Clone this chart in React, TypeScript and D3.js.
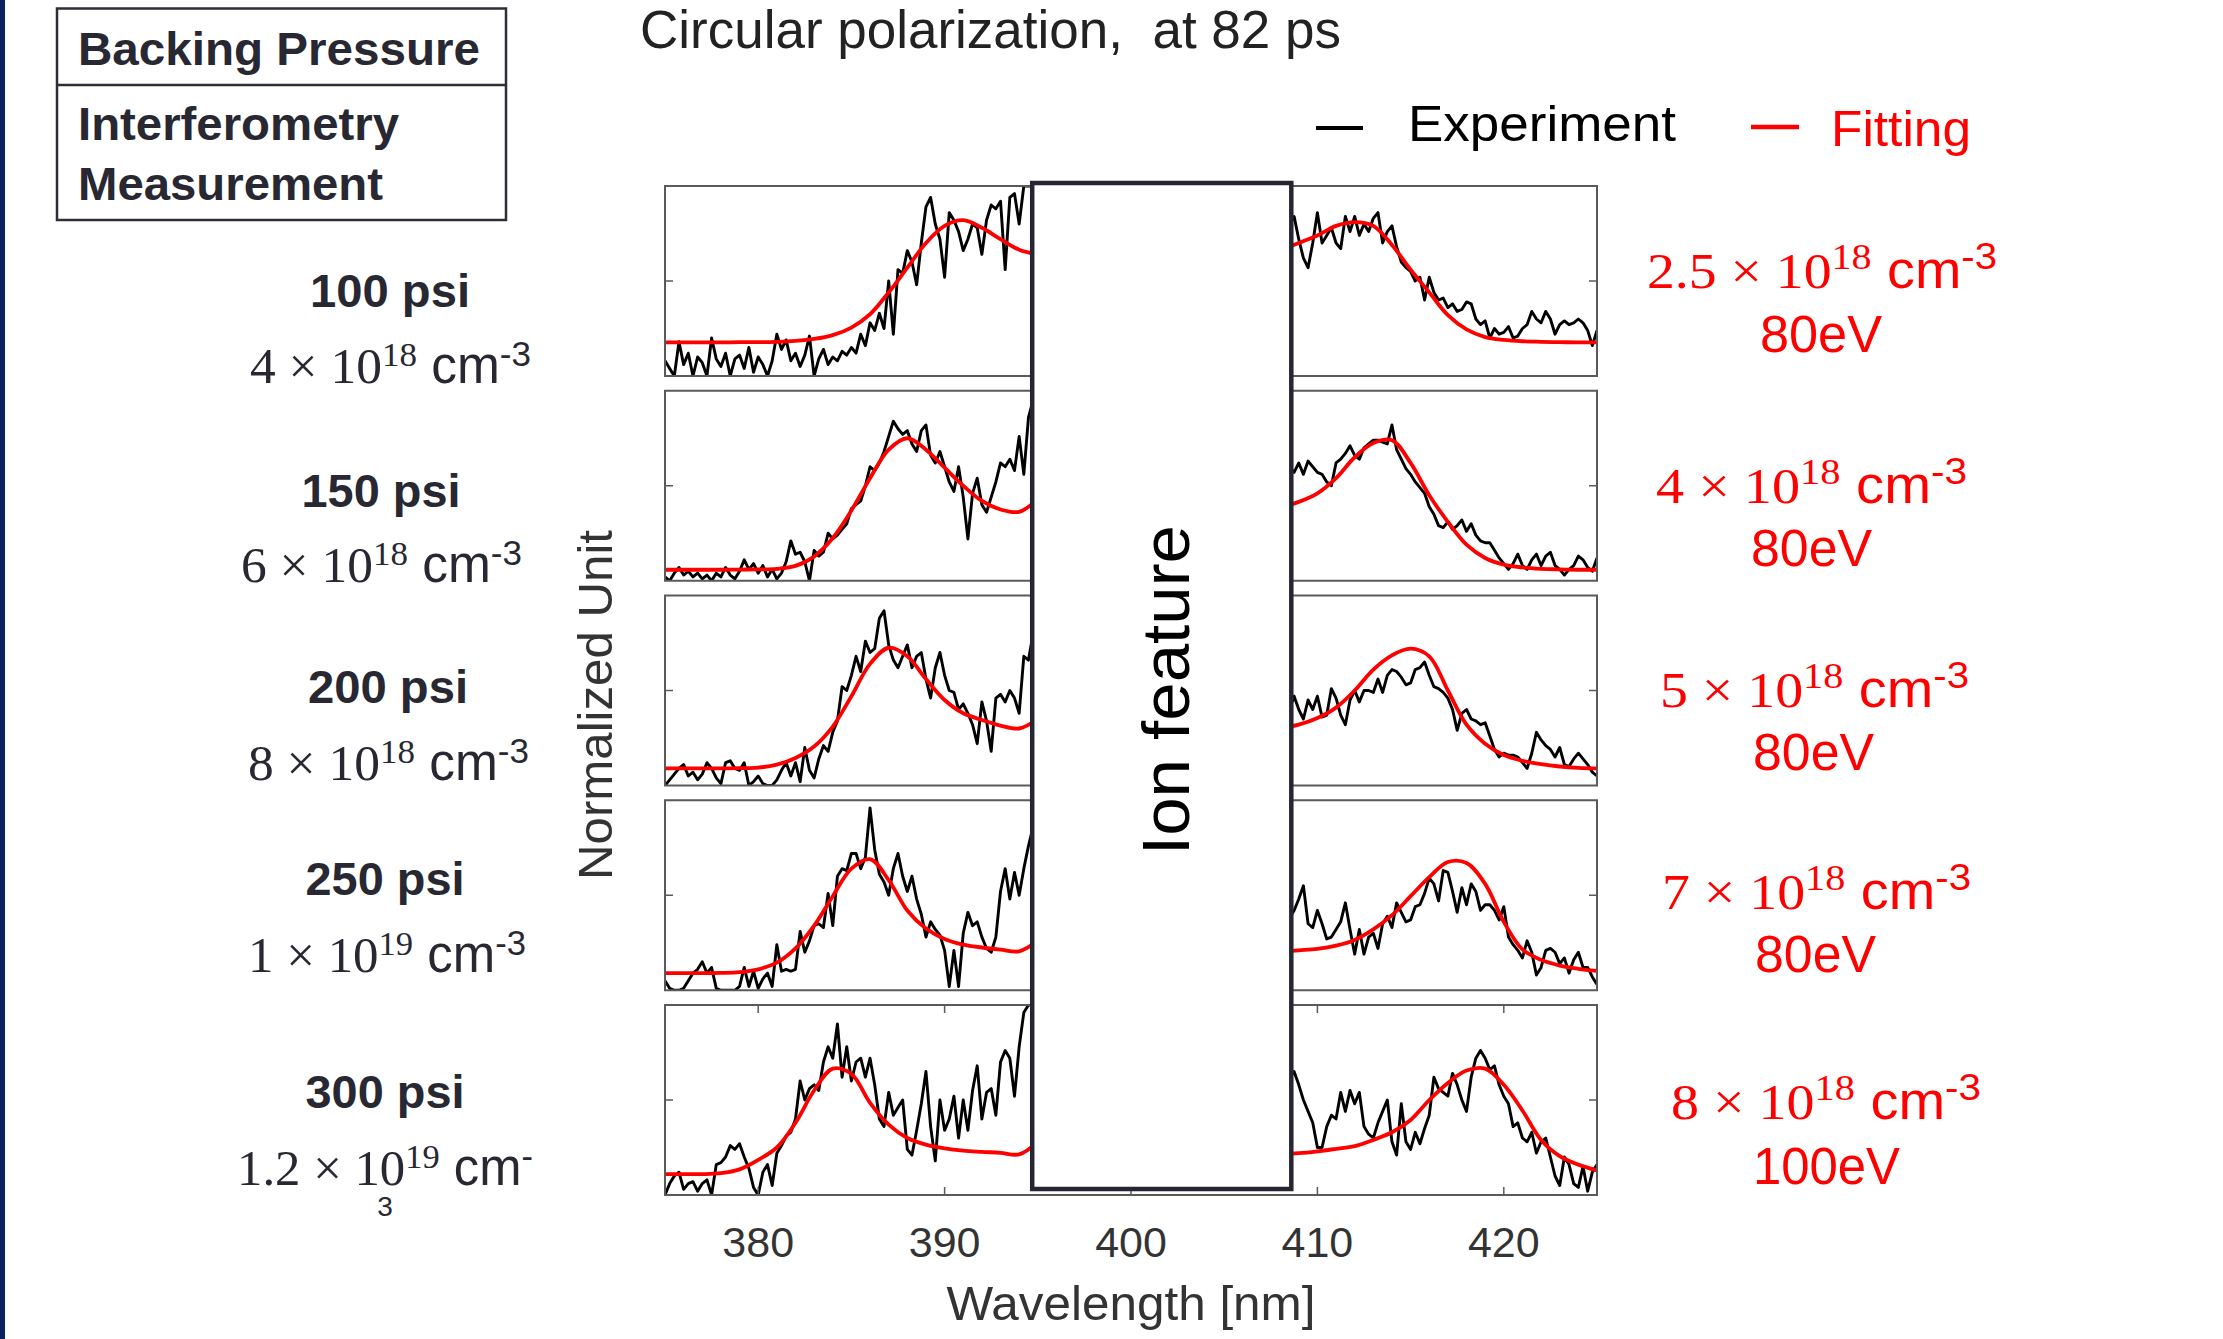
import React from "react";
import * as d3 from "d3";

// ---------------- data ----------------
const xDomain = [375, 425];
const xTicks = [380, 390, 400, 410, 420];
const yDomain = [0, 100];
const yTicks = [50];
const ionFeatureRange = [394.7, 408.6];

const expLeftStart = 375;
const expRightStart = 408.5;
const expStep = 0.25;
const fitLeftStart = 375;
const fitRightStart = 408;
const fitStep = 1;

const pressures = ["100 psi", "150 psi", "200 psi", "250 psi", "300 psi"];
const interfMantissa = ["4", "6", "8", "1", "1.2"];
const interfExponent = ["18", "18", "18", "19", "19"];
const fitMantissa = ["2.5", "4", "5", "7", "8"];
const fitExponent = ["18", "18", "18", "18", "18"];
const fitTemperature = ["80eV", "80eV", "80eV", "80eV", "100eV"];

// experiment, 100 psi
const exp100L = [8,4,0,18,6,12,0,10,7,0, 20,9,5,12,0,9,11,4,15,2, 10,6,0,8,22,14,19,8,12,5, 11,21,0,9,14,6,10,8,13,11, 15,12,22,16,28,24,33,25,50,22, 56,54,66,60,48,70,89,94,80,72, 52,86,82,76,66,72,80,78,64,82, 90,88,92,56,94,96,80,100,100,100, 100];
const exp100R = [80,84,72,62,57,70,86,70,74,78, 70,67,84,76,84,74,80,76,83,86, 70,76,79,68,60,57,55,50,52,40, 52,44,40,41,36,38,34,35,39,38, 30,27,29,20,25,22,23,26,20,21, 25,27,34,30,28,34,30,22,27,29, 27,28,30,28,24,16,24];
const fit100L = [17.7,17.7,17.7,17.7,17.8,17.8,18,18.5,19.5,21.5,25.5,32.5,44,57,70,79,82,78,72,66.5,64];
const fit100R = [66,70,74,79,81,79,69,56,44,32,24.5,20.5,19,18.3,18,17.8,17.7,17.7];

// experiment, 150 psi
const exp150L = [2,0,4,7,3,5,2,4,1,3, 0,4,2,7,3,1,5,11,6,9, 4,8,2,6,1,4,10,21,14,15, 10,0,16,13,15,25,22,24,27,30, 38,40,42,50,60,58,62,68,76,84, 80,77,79,72,68,79,82,66,62,68, 60,52,47,60,44,22,46,54,40,36, 44,52,62,60,64,58,76,56,86,95, 100];
const exp150R = [60,57,62,56,63,60,57,56,52,50, 62,64,67,71,66,64,70,72,74,74, 73,72,82,69,64,59,56,52,49,46, 39,35,29,28,31,27,29,32,26,30, 24,21,20,20,16,12,9,6,9,14, 8,6,11,14,8,13,15,8,6,3, 6,8,13,11,7,5,12];
const fit150L = [5.8,5.8,5.8,5.8,5.9,6,6.3,7.8,12.8,22.5,37,54,69,75,69,59.5,50,42,37.5,36.3,43];
const fit150R = [38.5,41.5,46,54,65,72.5,74,62,45,31,19,12,8.5,7,6.3,6,5.8,5.8];

// experiment, 200 psi
const exp200L = [0,3,6,9,11,5,7,3,6,12, 9,4,1,12,13,9,8,12,0,2, 5,1,0,0,3,8,12,5,12,2, 20,8,4,14,21,18,28,34,52,50, 58,68,60,76,70,72,88,92,74,66, 62,68,74,62,68,70,56,46,62,70, 58,50,49,40,43,38,32,22,44,34, 18,46,48,44,50,46,38,68,66,80, 85];
const exp200R = [40,47,40,35,45,40,47,36,37,51, 46,37,32,45,50,44,50,50,49,56, 49,58,61,60,57,53,54,61,62,65, 58,52,51,49,46,40,29,38,40,35, 34,32,33,26,19,15,17,16,16,15, 12,9,17,28,24,21,19,15,20,11, 10,14,17,14,11,7,5];
const fit200L = [9,9,9,9,9.1,9.4,11,14.5,20.5,31,47,64,72.5,68,56,45,38,34.5,31.5,30,35];
const fit200R = [30,32,35.5,41,50,61,68.5,72,68,50,32,22,16,13,11.2,10,9.3,9];

// experiment, 250 psi
const exp250L = [5,1,0,0,1,5,9,11,15,9, 12,1,0,0,0,0,2,12,2,10, 1,6,9,2,24,10,11,10,11,31, 20,26,34,35,33,51,34,60,64,63, 72,72,64,70,96,74,61,57,50,64, 72,60,52,60,48,40,28,36,32,29, 21,2,21,2,30,41,34,36,28,22, 20,28,52,64,48,62,50,64,76,86, 95];
const exp250R = [38,42,48,55,35,33,42,35,27,28, 32,36,46,32,19,32,19,28,30,22, 35,39,33,46,41,36,37,44,45,51, 59,56,47,63,62,52,41,54,45,56, 52,42,45,45,42,37,44,28,24,21, 17,26,20,8,12,21,22,20,14,17, 9,16,20,12,12,7,3];
const fit250L = [9,9,9,9.1,9.5,11,14.5,22,34,49.5,64,69,58,42,32.5,27,24,22.5,21.4,20.5,26];
const fit250R = [20.3,21,21.8,23.5,26.5,32,39.5,49.5,59.5,67.5,67,56,36,21.5,16,13,11.3,10.2];

// experiment, 300 psi
const exp300L = [0,6,10,12,3,6,7,2,6,8, 0,16,17,20,26,24,27,20,14,4, 0,12,16,5,22,26,31,33,40,60, 50,56,58,55,70,78,72,90,62,78, 60,70,72,62,72,58,40,36,54,42, 46,50,24,21,34,48,65,36,18,50, 34,40,52,30,50,34,55,68,40,54, 56,42,70,76,72,52,78,96,100,100, 100];
const exp300R = [62,65,58,50,44,38,25,25,36,42, 40,54,44,55,48,54,36,32,30,38, 44,50,28,21,48,28,24,33,27,35, 42,62,56,54,52,64,58,50,44,62, 72,76,72,66,68,58,52,48,36,38, 30,28,33,22,28,30,20,10,5,20, 16,6,4,15,2,12,16];
const fit300L = [11,11,11,11.5,13.5,18.5,25,38,55,66.5,63.7,48.5,37,30,26.5,24.5,23.3,22.7,22.2,21.4,28];
const fit300R = [21.5,22,23,24.3,25.7,29,33,39.5,50,59,65.5,66.5,58,44.5,29,20.5,16,13];

const panels = [
  { expL: exp100L, expR: exp100R, fitL: fit100L, fitR: fit100R },
  { expL: exp150L, expR: exp150R, fitL: fit150L, fitR: fit150R },
  { expL: exp200L, expR: exp200R, fitL: fit200L, fitR: fit200R },
  { expL: exp250L, expR: exp250R, fitL: fit250L, fitR: fit250R },
  { expL: exp300L, expR: exp300R, fitL: fit300L, fitR: fit300R },
];

// ---------------- fonts ----------------
const SANS = "'Liberation Sans', Arial, Helvetica, sans-serif";
const NARROW = "'Liberation Sans Narrow', 'Liberation Sans', Arial, sans-serif";
const SERIF = "'Liberation Serif', 'Times New Roman', serif";

function Density(props: {
  x: number; y: number; len: number; mant: string; exp: string; unitSup: string;
  color: string; size: number; supRatio: number; rise: number;
}) {
  const { x, y, len, mant, exp, unitSup, color, size, supRatio, rise } = props;
  const sup = size * supRatio;
  const r = size * rise;
  return (
    <text x={x} y={y} fill={color} fontSize={size} textLength={len}
      lengthAdjust="spacingAndGlyphs" style={{ whiteSpace: "pre" }}>
      <tspan fontFamily={SERIF}>{`${mant} \u00d7 10`}</tspan>
      <tspan fontFamily={SERIF} fontSize={sup} dy={-r}>{exp}</tspan>
      <tspan fontFamily={NARROW} dy={r}>{" cm"}</tspan>
      <tspan fontFamily={NARROW} fontSize={sup} dy={-r}>{unitSup}</tspan>
    </text>
  );
}

export default function App() {
  const W = 2223, H = 1339;
  const plotLeft = 665, plotRight = 1597;
  const panelTop0 = 186, panelPitch = 204.75, panelH = 190;
  const x = d3.scaleLinear().domain(xDomain).range([plotLeft, plotRight]);

  const leftPsi = [
    { cx: 390, y: 307, len: 160 },
    { cx: 381, y: 507, len: 159 },
    { cx: 388, y: 703, len: 160 },
    { cx: 385, y: 895, len: 159 },
    { cx: 385, y: 1108, len: 159 },
  ];
  const leftDen = [
    { x: 250, y: 383, len: 281 },
    { x: 241, y: 582, len: 281 },
    { x: 248, y: 780, len: 281 },
    { x: 248, y: 972, len: 278 },
    { x: 237, y: 1185, len: 296 },
  ];
  const rightDen = [
    { x: 1647, y: 288, len: 350 },
    { x: 1656, y: 503, len: 311 },
    { x: 1660, y: 707, len: 309 },
    { x: 1662, y: 909, len: 309 },
    { x: 1671, y: 1119, len: 310 },
  ];
  const rightEv = [
    { x: 1760, y: 352, len: 122 },
    { x: 1751, y: 566, len: 121 },
    { x: 1753, y: 770, len: 121 },
    { x: 1755, y: 972, len: 121 },
    { x: 1753, y: 1184, len: 147 },
  ];
  const darkText = "#282833";

  const boxX0 = x(ionFeatureRange[0]);
  const boxX1 = x(ionFeatureRange[1]);

  return (
    <svg width={W} height={H} style={{ position: "absolute", left: 0, top: 0, background: "#fff" }}>
      <rect x={0} y={0} width={W} height={H} fill="#fff" />
      <rect x={0} y={0} width={5} height={H} fill="#0b2260" />

      {/* table box */}
      <rect x={57} y={8.5} width={449} height={211.5} fill="none" stroke="#2e2e38" strokeWidth={2.5} />
      <line x1={57} x2={506} y1={85} y2={85} stroke="#2e2e38" strokeWidth={2.5} />
      <text x={78} y={65} fontFamily={NARROW} fontWeight="bold" fontSize={47} fill={darkText}
        textLength={402} lengthAdjust="spacingAndGlyphs">Backing Pressure</text>
      <text x={78} y={140} fontFamily={NARROW} fontWeight="bold" fontSize={47} fill={darkText}
        textLength={321} lengthAdjust="spacingAndGlyphs">Interferometry</text>
      <text x={78} y={200} fontFamily={NARROW} fontWeight="bold" fontSize={47} fill={darkText}
        textLength={305} lengthAdjust="spacingAndGlyphs">Measurement</text>

      {/* title */}
      <text x={640} y={48} fontFamily={NARROW} fontSize={53} fill="#222" textLength={701}
        lengthAdjust="spacingAndGlyphs" style={{ whiteSpace: "pre" }}>{"Circular polarization,  at 82 ps"}</text>

      {/* legend */}
      <line x1={1316} x2={1363} y1={128} y2={128} stroke="#000" strokeWidth={4} />
      <text x={1408} y={141} fontFamily={SANS} fontSize={50} fill="#000" textLength={268}
        lengthAdjust="spacingAndGlyphs">Experiment</text>
      <line x1={1751} x2={1799} y1={127} y2={127} stroke="#ff0000" strokeWidth={4.5} />
      <text x={1831} y={146} fontFamily={SANS} fontSize={50} fill="#ff0000" textLength={140}
        lengthAdjust="spacingAndGlyphs">Fitting</text>

      {/* left labels */}
      {pressures.map((p, i) => (
        <text key={"psi" + i} x={leftPsi[i].cx} y={leftPsi[i].y} textAnchor="middle" fontFamily={NARROW}
          fontWeight="bold" fontSize={47} fill={darkText} textLength={leftPsi[i].len}
          lengthAdjust="spacingAndGlyphs">{p}</text>
      ))}
      {interfMantissa.map((m, i) => (
        <Density key={"ld" + i} x={leftDen[i].x} y={leftDen[i].y} len={leftDen[i].len} mant={m}
          exp={interfExponent[i]} unitSup={i === 4 ? "-" : "-3"} color={darkText} size={51}
          supRatio={0.68} rise={0.34} />
      ))}
      <text x={385} y={1216} textAnchor="middle" fontFamily={NARROW} fontSize={28} fill={darkText}>3</text>

      {/* right labels */}
      {fitMantissa.map((m, i) => (
        <Density key={"rd" + i} x={rightDen[i].x} y={rightDen[i].y} len={rightDen[i].len} mant={m}
          exp={fitExponent[i]} unitSup="-3" color="#ff0000" size={51} supRatio={0.72} rise={0.37} />
      ))}
      {fitTemperature.map((t, i) => (
        <text key={"ev" + i} x={rightEv[i].x} y={rightEv[i].y} fontFamily={SANS} fontSize={51}
          fill="#ff0000" textLength={rightEv[i].len} lengthAdjust="spacingAndGlyphs">{t}</text>
      ))}

      {/* y axis label */}
      <text transform="translate(612,705) rotate(-90)" textAnchor="middle" fontFamily={SANS} fontSize={49}
        fill="#333" textLength={350} lengthAdjust="spacingAndGlyphs">Normalized Unit</text>

      {/* panels */}
      {panels.map((p, i) => {
        const top = panelTop0 + i * panelPitch;
        const bottom = top + panelH;
        const y = d3.scaleLinear().domain(yDomain).range([bottom, top]);
        const expLine = (start: number) =>
          d3.line<number>().x((_, j) => x(start + j * expStep)).y((d) => y(d));
        const fitLine = (start: number) =>
          d3.line<number>().x((_, j) => x(start + j * fitStep)).y((d) => y(d))
            .curve(d3.curveCatmullRom.alpha(0.5));
        const isLast = i === panels.length - 1;
        return (
          <g key={"panel" + i}>
            <clipPath id={"clip" + i}>
              <rect x={plotLeft} y={top} width={plotRight - plotLeft} height={panelH} />
            </clipPath>
            <g clipPath={`url(#clip${i})`}>
              <path d={expLine(expLeftStart)(p.expL) || ""} fill="none" stroke="#000" strokeWidth={2.9}
                strokeLinejoin="round" />
              <path d={expLine(expRightStart)(p.expR) || ""} fill="none" stroke="#000" strokeWidth={2.9}
                strokeLinejoin="round" />
              <path d={fitLine(fitLeftStart)(p.fitL) || ""} fill="none" stroke="#ff0000" strokeWidth={3.8} />
              <path d={fitLine(fitRightStart)(p.fitR) || ""} fill="none" stroke="#ff0000" strokeWidth={3.8} />
            </g>
            <rect x={plotLeft} y={top} width={plotRight - plotLeft} height={panelH} fill="none"
              stroke="#5a5a5a" strokeWidth={2} />
            {yTicks.map((t) => (
              <g key={"yt" + t}>
                <line x1={plotLeft} x2={plotLeft + 8} y1={y(t)} y2={y(t)} stroke="#5a5a5a" strokeWidth={1.5} />
                <line x1={plotRight - 8} x2={plotRight} y1={y(t)} y2={y(t)} stroke="#5a5a5a" strokeWidth={1.5} />
              </g>
            ))}
            {isLast && xTicks.map((t) => (
              <g key={"xt" + t}>
                <line x1={x(t)} x2={x(t)} y1={top} y2={top + 8} stroke="#5a5a5a" strokeWidth={1.5} />
                <line x1={x(t)} x2={x(t)} y1={bottom - 8} y2={bottom} stroke="#5a5a5a" strokeWidth={1.5} />
              </g>
            ))}
          </g>
        );
      })}

      {/* ion feature box */}
      <rect x={boxX0} y={183} width={boxX1 - boxX0} height={1006} fill="#fff" stroke="#262632" strokeWidth={4.5} />
      <text transform="translate(1189,690) rotate(-90)" textAnchor="middle" fontFamily={SANS} fontSize={66}
        fill="#000" textLength={330} lengthAdjust="spacingAndGlyphs">Ion feature</text>

      {/* x axis */}
      {xTicks.map((t) => (
        <text key={"xl" + t} x={x(t)} y={1257} textAnchor="middle" fontFamily={SANS} fontSize={43} fill="#333">{t}</text>
      ))}
      <text x={x(400)} y={1320} textAnchor="middle" fontFamily={SANS} fontSize={49} fill="#333"
        textLength={369} lengthAdjust="spacingAndGlyphs">Wavelength [nm]</text>
    </svg>
  );
}
